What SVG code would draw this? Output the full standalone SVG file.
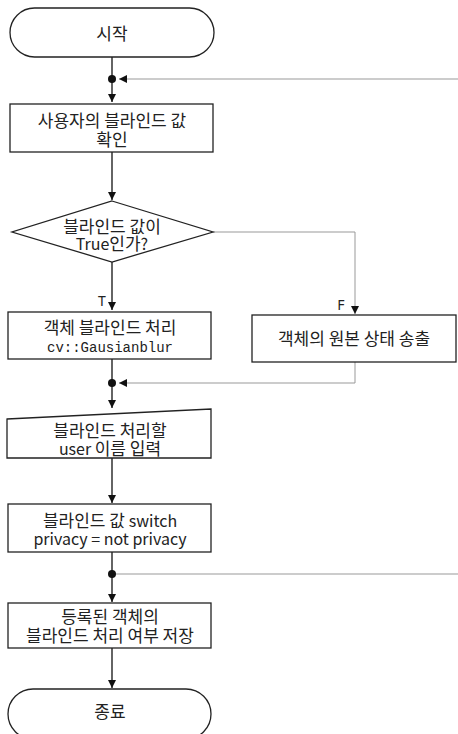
<svg xmlns="http://www.w3.org/2000/svg" width="458" height="734" viewBox="0 0 458 734">
<style>
.s{fill:#fff;stroke:#222;stroke-width:1.3}
.t{font-family:"Noto Sans CJK KR","Noto Sans",sans-serif;font-size:17px;fill:#222;text-anchor:middle}
.e{font-size:16px}
.m{font-family:"Liberation Mono",monospace;font-size:14px;fill:#222;text-anchor:middle}
.l{font-family:"Noto Sans","Noto Sans CJK KR",sans-serif;font-size:14px;fill:#222;text-anchor:middle}
.c{fill:none;stroke:#111;stroke-width:1.3}
.g{fill:none;stroke:#999;stroke-width:1}
</style>
<defs>
<marker id="a" viewBox="0 0 8 8" refX="8" refY="4" markerWidth="8" markerHeight="8" markerUnits="userSpaceOnUse" orient="auto"><path d="M0,0L8,4L0,8Z" fill="#111"/></marker>
</defs>
<rect width="458" height="734" fill="#fff"/>
<g id="connectors">
<path class="c" d="M112,57V102" marker-end="url(#a)"/>
<path class="g" d="M458,79H119" marker-end="url(#a)"/>
<circle cx="112" cy="79" r="4" fill="#111"/>
<path class="c" d="M112,152V200" marker-end="url(#a)"/>
<path class="c" d="M112,262V310" marker-end="url(#a)"/>
<path class="g" d="M213,232H355V314" marker-end="url(#a)"/>
<path class="c" d="M112,359V408" marker-end="url(#a)"/>
<path class="g" d="M355,362V383H119" marker-end="url(#a)"/>
<circle cx="112" cy="383" r="4" fill="#111"/>
<path class="c" d="M112,458V503" marker-end="url(#a)"/>
<path class="c" d="M112,552V602" marker-end="url(#a)"/>
<path class="g" d="M112,574H458"/>
<circle cx="112" cy="574" r="4" fill="#111"/>
<path class="c" d="M112,648V688" marker-end="url(#a)"/>
<text class="l" x="102" y="306">T</text>
<text class="l" x="341" y="310">F</text>
</g>
<g id="start">
<rect class="s" x="10" y="8" width="204" height="49" rx="24.5"/>
<text class="t" x="112" y="40">시작</text>
</g>
<g id="check">
<rect class="s" x="10" y="104" width="203" height="48"/>
<text class="t" x="112" y="127">사용자의 블라인드 값</text>
<text class="t" x="112" y="146">확인</text>
</g>
<g id="decision">
<path class="s" d="M112,201L213,232L112,262L12,232Z"/>
<text class="t" x="112" y="233">블라인드 값이</text>
<text class="t" x="112" y="250"><tspan class="e">True</tspan>인가<tspan class="e">?</tspan></text>
</g>
<g id="blur">
<rect class="s" x="8" y="312" width="203" height="47"/>
<text class="t" x="110" y="334">객체 블라인드 처리</text>
<text class="m" x="110" y="352">cv::Gausianblur</text>
</g>
<g id="original">
<rect class="s" x="252" y="315" width="204" height="47"/>
<text class="t" x="354" y="345">객체의 원본 상태 송출</text>
</g>
<g id="input">
<path class="s" d="M7,419L211,409V458H7Z"/>
<text class="t" x="110" y="437">블라인드 처리할</text>
<text class="t" x="110" y="455"><tspan class="e">user </tspan>이름 입력</text>
</g>
<g id="switch">
<rect class="s" x="8" y="504" width="203" height="48"/>
<text class="t" x="110" y="527">블라인드 값 <tspan class="e">switch</tspan></text>
<text class="t e" x="110" y="545">privacy = not privacy</text>
</g>
<g id="save">
<rect class="s" x="8" y="603" width="203" height="45"/>
<text class="t" x="110" y="623">등록된 객체의</text>
<text class="t" x="110" y="642">블라인드 처리 여부 저장</text>
</g>
<g id="end">
<rect class="s" x="8" y="689" width="203" height="50" rx="25"/>
<text class="t" x="110" y="718">종료</text>
</g>
</svg>
